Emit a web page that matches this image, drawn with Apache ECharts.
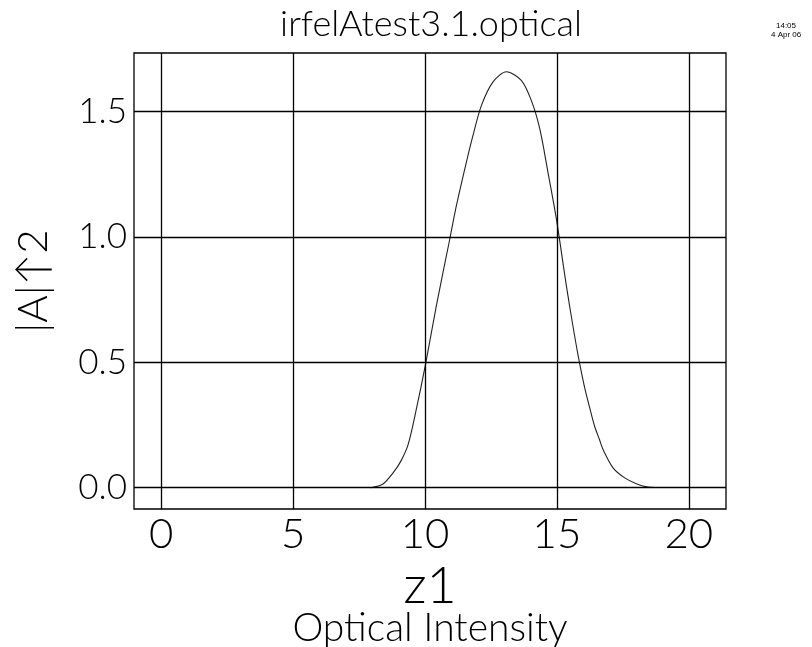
<!DOCTYPE html>
<html>
<head>
<meta charset="utf-8">
<script src="https://cdn.jsdelivr.net/npm/echarts@6/dist/echarts.min.js"></script>
<style>html,body{margin:0;padding:0;background:#fff}#c{width:812px;height:647px}</style>
</head>
<body>
<div id="c"></div>
<script>
var zValues = [7.94, 8.41, 8.79, 9.08, 9.36, 9.67, 10.02, 10.43, 10.94, 11.19, 11.57, 11.82, 12.14, 12.58, 13.09, 13.65, 14.03, 14.35, 14.66, 14.98, 15.36, 15.60, 15.80, 16.05, 16.24, 16.43, 16.62, 16.75, 17.13, 17.57, 18.01, 18.45, 19.09];
var intensity = [0.0, 0.015, 0.059, 0.105, 0.172, 0.312, 0.492, 0.725, 0.992, 1.125, 1.299, 1.405, 1.525, 1.619, 1.659, 1.625, 1.545, 1.432, 1.259, 1.072, 0.805, 0.650, 0.530, 0.400, 0.320, 0.245, 0.190, 0.152, 0.079, 0.039, 0.016, 0.003, 0.001];
var xTicks = [0, 5, 10, 15, 20];
var yTicks = [0, 0.5, 1.0, 1.5];
var titleText = 'irfelAtest3.1.optical';
var subTitleText = 'Optical Intensity';
var xName = 'z1';
var yName = '|A|\u21912';
var stampTime = '14:05';
var stampDate = '4 Apr 06';

var FONT = 'Lato, "DejaVu Sans", sans-serif';
var W = 300;
var INK = '#000';

var points = zValues.map(function (z, i) { return [z, intensity[i]]; });
var gridMarks = xTicks.map(function (v) { return { xAxis: v }; })
  .concat(yTicks.map(function (v) { return { yAxis: v }; }));

var chart = echarts.init(document.getElementById('c'), null, { renderer: 'canvas' });
chart.setOption({
  backgroundColor: '#ffffff',
  animation: false,
  title: [
    { text: titleText, left: 431, top: 6, textAlign: 'center', padding: 0,
      textStyle: { fontFamily: FONT, fontWeight: W, fontSize: 36, color: INK } },
    { text: subTitleText, left: 430, top: 609, textAlign: 'center', padding: 0,
      textStyle: { fontFamily: FONT, fontWeight: W, fontSize: 39, color: INK } }
  ],
  graphic: [
    { type: 'text', left: 776, top: 22, style: { text: stampTime, font: '8px "Liberation Sans", sans-serif', fill: INK } },
    { type: 'text', left: 771, top: 31, style: { text: stampDate, font: '8px "Liberation Sans", sans-serif', fill: INK } }
  ],
  grid: { left: 134, top: 53, width: 592, height: 456, show: true, borderColor: INK, borderWidth: 1.3, backgroundColor: 'transparent' },
  xAxis: {
    type: 'value', min: -1.03, max: 21.41,
    name: xName, nameLocation: 'middle', nameGap: 45,
    nameTextStyle: { fontFamily: FONT, fontWeight: W, fontSize: 52, color: INK },
    axisLine: { show: false }, axisTick: { show: false }, splitLine: { show: false },
    axisLabel: { customValues: xTicks, margin: 4, fontFamily: FONT, fontWeight: W, fontSize: 42, color: INK }
  },
  yAxis: {
    type: 'value', min: -0.085, max: 1.734,
    name: yName, nameLocation: 'middle', nameGap: 80, nameRotate: 90,
    nameTextStyle: { fontFamily: FONT, fontWeight: W, fontSize: 42, color: INK },
    axisLine: { show: false }, axisTick: { show: false }, splitLine: { show: false },
    axisLabel: { customValues: yTicks, margin: 7, fontFamily: FONT, fontWeight: W, fontSize: 35, color: INK,
      verticalAlign: 'middle', padding: [0, 0, 24, 0],
      formatter: function (v) { return v.toFixed(1); } }
  },
  series: [{
    type: 'line', data: points, smooth: 0.3, showSymbol: false, symbol: 'none',
    lineStyle: { color: '#222', width: 1.1 },
    markLine: { silent: true, symbol: 'none', label: { show: false },
      lineStyle: { color: INK, width: 1.3, type: 'solid' }, emphasis: { disabled: true },
      data: gridMarks }
  }]
});
</script>
</body>
</html>
